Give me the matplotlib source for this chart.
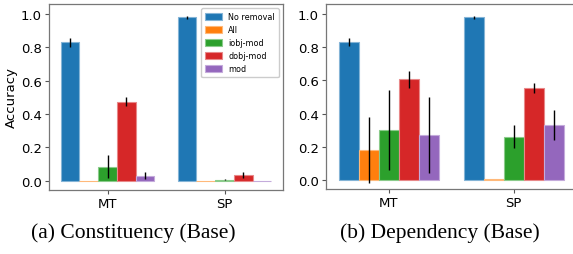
import numpy as np
import matplotlib.pyplot as plt
from matplotlib.colors import to_rgb

groups = ["MT", "SP"]
series = ["No removal", "All", "iobj-mod", "dobj-mod", "mod"]
colors = ["#1f77b4", "#ff7f0e", "#2ca02c", "#d62728", "#9467bd"]

# constituency (base): rows = series, cols = MT, SP
const_mean = [[0.83, 0.98], [0.0, 0.0], [0.085, 0.005], [0.475, 0.035], [0.03, 0.0]]
const_err = [[0.025, 0.007], [0.0, 0.0], [0.07, 0.003], [0.025, 0.02], [0.02, 0.0]]

# dependency (base)
dep_mean = [[0.83, 0.98], [0.18, 0.003], [0.30, 0.26], [0.605, 0.555], [0.27, 0.33]]
dep_err = [[0.025, 0.008], [0.20, 0.0], [0.24, 0.07], [0.05, 0.03], [0.23, 0.09]]

captions = ["(a) Constituency (Base)", "(b) Dependency (Base)"]

W, H = 573, 255
fig = plt.figure(figsize=(W / 100, H / 100), dpi=100)
ax1 = fig.add_axes([49 / W, 64 / H, 234 / W, 186 / H])
ax2 = fig.add_axes([326 / W, 65 / H, 250 / W, 185 / H])

width = 0.16
x = np.arange(len(groups))


def light(c, f=0.45):
    r, g, b = to_rgb(c)
    return (r + (1 - r) * f, g + (1 - g) * f, b + (1 - b) * f)


for ax, mean, err in [(ax1, const_mean, const_err), (ax2, dep_mean, dep_err)]:
    for i, name in enumerate(series):
        ax.bar(x + (i - 2) * width, mean[i], width, yerr=err[i], color=colors[i],
               edgecolor=light(colors[i]), linewidth=0.8, label=name,
               error_kw=dict(ecolor="black", elinewidth=1, capsize=0))
    ax.set_xlim(-0.5, 1.5)
    ax.set_ylim(-0.055, 1.06)
    ax.set_xticks(x)
    ax.set_xticklabels(groups)
    ax.set_yticks([0, 0.2, 0.4, 0.6, 0.8, 1.0])
    ax.tick_params(labelsize=9.5, length=3, width=0.8, color="#555555", pad=2)
    for s in ax.spines.values():
        s.set_color("#777777")
        s.set_linewidth(0.9)

ax1.set_ylabel("Accuracy", fontsize=9.5, labelpad=2)
ax1.legend(loc="upper right", fontsize=5.8, handlelength=2.1, handleheight=0.9,
           labelspacing=0.5, borderpad=0.5, framealpha=1, edgecolor="#cccccc")

fig.text(133 / W, 1 - 233 / H, captions[0], ha="center", va="center",
         fontsize=15.5, family="Liberation Serif")
fig.text(440 / W, 1 - 233 / H, captions[1], ha="center", va="center",
         fontsize=15.5, family="Liberation Serif")

fig.savefig("out.png", dpi=100)
